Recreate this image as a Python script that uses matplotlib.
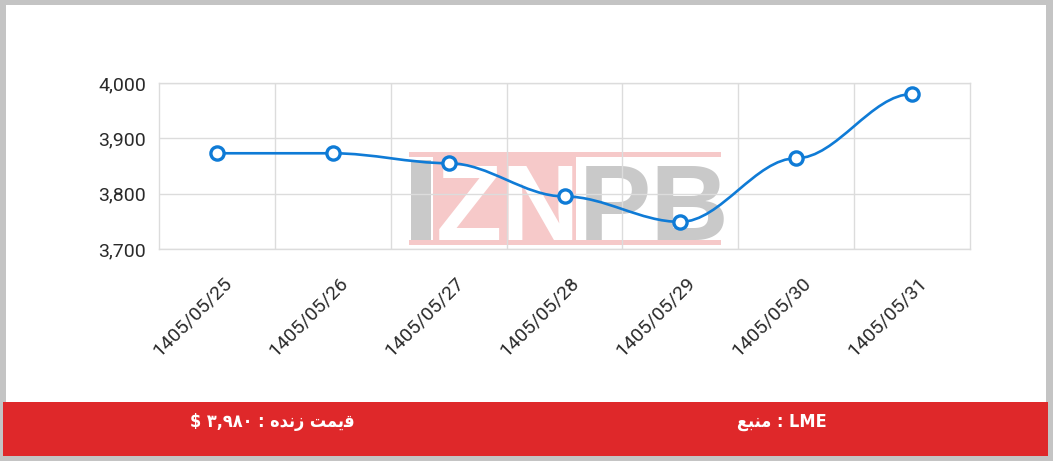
import matplotlib
matplotlib.use("Agg")
import matplotlib.pyplot as plt
from matplotlib import font_manager, ft2font
from matplotlib.patches import PathPatch, Rectangle
from matplotlib.path import Path
from matplotlib.ticker import FuncFormatter
from matplotlib.transforms import ScaledTranslation, blended_transform_factory

W, H = 1053, 461

dates = ["1405/05/25", "1405/05/26", "1405/05/27", "1405/05/28",
         "1405/05/29", "1405/05/30", "1405/05/31"]
prices = [3873, 3873, 3855, 3795, 3749, 3864, 3980]
y_ticks = [3700, 3800, 3900, 4000]
live_price = "\u06F3,\u06F9\u06F8\u06F0"   # ۳,۹۸۰
source = "LME"

BLUE = "#0f7bd6"
GRID = "#dcdcdc"
TEXT = "#2a2a2a"
RED = "#df282a"
PINK = "#f6c9c9"
LOGO_GREY = "#c9c9c9"

plt.rcParams["font.family"] = ["Roboto", "DejaVu Sans"]


def font_has(props, chars):
    path = font_manager.findfont(props)
    f = ft2font.FT2Font(path)
    return all(f.get_char_index(ord(c)) != 0 for c in chars)


def px_box(x0, y0, x1, y1):
    # pixel box (top-left origin) -> figure fraction rect
    return (x0 / W, 1 - y1 / H), (x1 - x0) / W, (y1 - y0) / H


def smooth_path(xs, ys, k=0.35):
    # bezier per segment, flat handles at each point
    verts = [(xs[0], ys[0])]
    codes = [Path.MOVETO]
    for i in range(1, len(xs)):
        dx = (xs[i] - xs[i - 1]) * k
        verts += [(xs[i - 1] + dx, ys[i - 1]), (xs[i] - dx, ys[i]),
                  (xs[i], ys[i])]
        codes += [Path.CURVE4] * 3
    return Path(verts, codes)


fig = plt.figure(figsize=(W / 100, H / 100), dpi=100)
fig.patch.set_facecolor("#c4c4c4")

# card + footer bar
fig.add_artist(Rectangle(*px_box(6, 5, 1046, 402), transform=fig.transFigure,
                         facecolor="white", edgecolor="none", zorder=-3))
fig.add_artist(Rectangle(*px_box(3, 402, 1048, 456), transform=fig.transFigure,
                         facecolor=RED, edgecolor="none", zorder=-3))

# watermark logo
for box, col in [((433, 152, 576, 245), PINK),
                 ((409, 152, 721, 157), PINK),
                 ((409, 240, 721, 245), PINK),
                 ((411, 160, 431, 240), LOGO_GREY)]:
    fig.add_artist(Rectangle(*px_box(*box), transform=fig.transFigure,
                             facecolor=col, edgecolor="none", zorder=-2))
fig.text(436 / W, 1 - 240 / H, "ZN", color="white", fontsize=78,
         fontweight="bold", family=["Liberation Sans", "DejaVu Sans"],
         ha="left", va="baseline", zorder=-1)
fig.text(579 / W, 1 - 240 / H, "PB", color=LOGO_GREY, fontsize=78,
         fontweight="bold", family=["Liberation Sans", "DejaVu Sans"],
         ha="left", va="baseline", zorder=-1)

ax = fig.add_axes([159 / W, 1 - 249 / H, 811 / W, 166 / H])
ax.set_facecolor("none")

x = list(range(len(dates)))
ax.add_patch(PathPatch(smooth_path(x, prices), fill=False, edgecolor=BLUE,
                       lw=1.9, zorder=3, capstyle="round"))
ax.plot(x, prices, ls="none", marker="o", ms=9.5, mfc="white", mec=BLUE,
        mew=2.4, zorder=4, clip_on=False)

ax.set_xlim(-0.5, len(dates) - 0.5)
ax.set_ylim(y_ticks[0], y_ticks[-1])
ax.set_yticks(y_ticks)
ax.yaxis.set_major_formatter(FuncFormatter(lambda v, p: f"{v:,.0f}"))
ax.set_xticks([])
ax.set_xticks([i + 0.5 for i in x[:-1]], minor=True)
ax.grid(which="minor", axis="x", color=GRID, lw=1)
ax.grid(which="major", axis="y", color=GRID, lw=1)
ax.tick_params(axis="y", length=0, pad=9.4, labelsize=14, labelcolor=TEXT)
ax.tick_params(axis="x", which="both", length=0)
for sp in ax.spines.values():
    sp.set_color(GRID)
    sp.set_linewidth(1)

lbl_tr = blended_transform_factory(ax.transData, ax.transAxes) + \
    ScaledTranslation(0.12, -0.31, fig.dpi_scale_trans)
for i, d in zip(x, dates):
    ax.text(i, 0, d, transform=lbl_tr, rotation=45, rotation_mode="anchor",
            ha="right", va="center", fontsize=14, color=TEXT)

# footer text: Persian in visual order with presentation forms
base = font_manager.FontProperties(family="DejaVu Sans", weight="bold")
yeh_med = "\uFBFE" if font_has(base, "\uFBFE") else "\uFEF4"
gheymat = "\uFE96\uFEE4" + yeh_med + "\uFED7"   # قیمت
zendeh = "\uFEE9\uFEAA\uFEE7\uFEAF"             # زنده
manba = "\uFECA\uFE92\uFEE8\uFEE3"              # منبع
price_txt = "$ " + live_price + " : " + zendeh + " " + gheymat
source_txt = manba + " : " + source

cond = font_manager.FontProperties(family="DejaVu Sans", weight="bold",
                                   stretch="condensed")
stretch = "condensed" if font_has(cond, price_txt + source_txt) else "normal"

foot_font = dict(color="white", fontsize=13, fontweight="bold",
                 fontstretch=stretch, family="DejaVu Sans",
                 ha="center", va="center")
fig.text(272 / W, 1 - 422 / H, price_txt, **foot_font)
fig.text(782 / W, 1 - 422 / H, source_txt, **foot_font)

fig.savefig("out.png", dpi=100)
